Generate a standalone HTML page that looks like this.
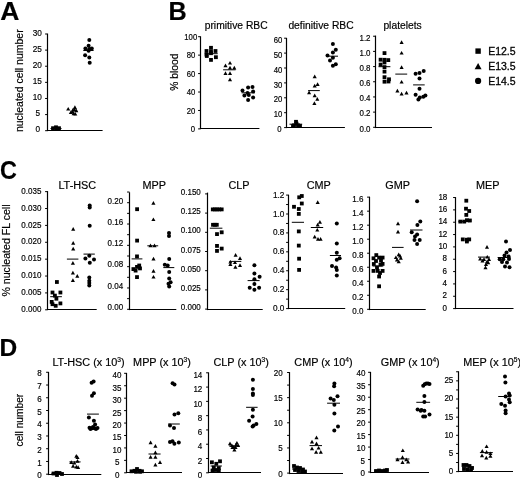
<!DOCTYPE html>
<html><head><meta charset="utf-8"><title>Figure</title>
<style>
html,body{margin:0;padding:0;background:#fff;}
body{width:520px;height:479px;overflow:hidden;}
svg{display:block;will-change:transform;}
svg text{font-family:"Liberation Sans", sans-serif;fill:#000;stroke:#000;stroke-width:0.18px;}
</style></head><body>
<svg width="520" height="479" viewBox="0 0 520 479" fill="#000">
<g stroke="none">
</g>
<g>
<line x1="47.5" y1="33.6" x2="47.5" y2="131.1" stroke="#000" stroke-width="1.2"/>
<line x1="46.9" y1="130.5" x2="102.6" y2="130.5" stroke="#000" stroke-width="1.2"/>
<line x1="45.1" y1="130.7" x2="47.5" y2="130.7" stroke="#000" stroke-width="1"/>
<text transform="translate(40.2,132.4) scale(0.93,1)" font-size="8.86" text-anchor="end">0</text>
<line x1="45.1" y1="114.58" x2="47.5" y2="114.58" stroke="#000" stroke-width="1"/>
<text transform="translate(40.2,116.28) scale(0.93,1)" font-size="8.86" text-anchor="end">5</text>
<line x1="45.1" y1="98.47" x2="47.5" y2="98.47" stroke="#000" stroke-width="1"/>
<text transform="translate(41.8,100.17) scale(0.93,1)" font-size="8.86" text-anchor="end">10</text>
<line x1="45.1" y1="82.35" x2="47.5" y2="82.35" stroke="#000" stroke-width="1"/>
<text transform="translate(41.8,84.05) scale(0.93,1)" font-size="8.86" text-anchor="end">15</text>
<line x1="45.1" y1="66.23" x2="47.5" y2="66.23" stroke="#000" stroke-width="1"/>
<text transform="translate(41.8,67.93) scale(0.93,1)" font-size="8.86" text-anchor="end">20</text>
<line x1="45.1" y1="50.12" x2="47.5" y2="50.12" stroke="#000" stroke-width="1"/>
<text transform="translate(41.8,51.82) scale(0.93,1)" font-size="8.86" text-anchor="end">25</text>
<line x1="45.1" y1="34" x2="47.5" y2="34" stroke="#000" stroke-width="1"/>
<text transform="translate(41.8,35.7) scale(0.93,1)" font-size="8.86" text-anchor="end">30</text>
<rect x="51.1" y="126.3" width="3.8" height="3.8"/>
<rect x="54.1" y="125.4" width="3.8" height="3.8"/>
<rect x="57.1" y="126.3" width="3.8" height="3.8"/>
<rect x="54.6" y="127.1" width="3.8" height="3.8"/>
<path d="M68.2 106.89L70.25 110.58L66.15 110.58Z"/>
<path d="M74.9 105.19L76.95 108.88L72.85 108.88Z"/>
<path d="M72.9 107.89L74.95 111.58L70.85 111.58Z"/>
<path d="M76.3 108.59L78.35 112.28L74.25 112.28Z"/>
<path d="M70.9 110.19L72.95 113.88L68.85 113.88Z"/>
<path d="M73.6 111.59L75.65 115.28L71.55 115.28Z"/>
<path d="M75.3 111.89L77.35 115.58L73.25 115.58Z"/>
<path d="M72.5 109.59L74.55 113.28L70.45 113.28Z"/>
<path d="M74.5 107.59L76.55 111.28L72.45 111.28Z"/>
<circle cx="89.3" cy="40" r="2"/>
<circle cx="88.6" cy="45.7" r="2"/>
<circle cx="85.4" cy="48.5" r="2"/>
<circle cx="91.8" cy="48.5" r="2"/>
<circle cx="88.6" cy="50.7" r="2"/>
<circle cx="89.3" cy="48.9" r="2"/>
<circle cx="85.1" cy="55.3" r="2"/>
<circle cx="89.3" cy="57.4" r="2"/>
<circle cx="89.7" cy="62.7" r="2"/>
<line x1="50.5" y1="128.5" x2="61.5" y2="128.5" stroke="#000" stroke-width="1"/>
<line x1="83.3" y1="50.5" x2="93.6" y2="50.5" stroke="#000" stroke-width="1"/>
<line x1="200.5" y1="36.3" x2="200.5" y2="129.1" stroke="#000" stroke-width="1.2"/>
<line x1="199.9" y1="128.5" x2="259.4" y2="128.5" stroke="#000" stroke-width="1.2"/>
<line x1="198.1" y1="128.9" x2="200.5" y2="128.9" stroke="#000" stroke-width="1"/>
<text transform="translate(195.1,132) scale(0.93,1)" font-size="8.32" text-anchor="end">0</text>
<line x1="198.1" y1="110.46" x2="200.5" y2="110.46" stroke="#000" stroke-width="1"/>
<text transform="translate(195.4,113.56) scale(0.93,1)" font-size="8.32" text-anchor="end">20</text>
<line x1="198.1" y1="92.02" x2="200.5" y2="92.02" stroke="#000" stroke-width="1"/>
<text transform="translate(195.4,95.12) scale(0.93,1)" font-size="8.32" text-anchor="end">40</text>
<line x1="198.1" y1="73.58" x2="200.5" y2="73.58" stroke="#000" stroke-width="1"/>
<text transform="translate(195.4,76.68) scale(0.93,1)" font-size="8.32" text-anchor="end">60</text>
<line x1="198.1" y1="55.14" x2="200.5" y2="55.14" stroke="#000" stroke-width="1"/>
<text transform="translate(195.4,58.24) scale(0.93,1)" font-size="8.32" text-anchor="end">80</text>
<line x1="198.1" y1="36.7" x2="200.5" y2="36.7" stroke="#000" stroke-width="1"/>
<text transform="translate(197.2,39.8) scale(0.93,1)" font-size="8.32" text-anchor="end">100</text>
<rect x="209.1" y="45.9" width="3.8" height="3.8"/>
<rect x="204.6" y="49.1" width="3.8" height="3.8"/>
<rect x="209.1" y="49.5" width="3.8" height="3.8"/>
<rect x="213.6" y="49.1" width="3.8" height="3.8"/>
<rect x="204.6" y="52.7" width="3.8" height="3.8"/>
<rect x="209.1" y="51.3" width="3.8" height="3.8"/>
<rect x="214" y="55.3" width="3.8" height="3.8"/>
<rect x="209.1" y="58" width="3.8" height="3.8"/>
<rect x="204.9" y="54.1" width="3.8" height="3.8"/>
<path d="M230 60.89L232.05 64.58L227.95 64.58Z"/>
<path d="M225.5 63.59L227.55 67.28L223.45 67.28Z"/>
<path d="M230 65.79L232.05 69.48L227.95 69.48Z"/>
<path d="M234.3 65.79L236.35 69.48L232.25 69.48Z"/>
<path d="M225.5 71.19L227.55 74.88L223.45 74.88Z"/>
<path d="M230 71.19L232.05 74.88L227.95 74.88Z"/>
<path d="M230 77.49L232.05 81.18L227.95 81.18Z"/>
<circle cx="248.1" cy="87.5" r="2"/>
<circle cx="252.5" cy="86.9" r="2"/>
<circle cx="242.5" cy="90.6" r="2"/>
<circle cx="253.1" cy="91.5" r="2"/>
<circle cx="247.5" cy="93.1" r="2"/>
<circle cx="244.4" cy="95.6" r="2"/>
<circle cx="248.8" cy="95" r="2"/>
<circle cx="253.1" cy="97.5" r="2"/>
<circle cx="248.1" cy="100" r="2"/>
<line x1="204.7" y1="53.7" x2="217.7" y2="53.7" stroke="#000" stroke-width="1"/>
<line x1="223.1" y1="69.8" x2="235.6" y2="69.8" stroke="#000" stroke-width="1"/>
<line x1="241.5" y1="92.8" x2="255" y2="92.8" stroke="#000" stroke-width="1"/>
<line x1="286.5" y1="37.9" x2="286.5" y2="128.1" stroke="#000" stroke-width="1.2"/>
<line x1="285.9" y1="127.5" x2="344.9" y2="127.5" stroke="#000" stroke-width="1.2"/>
<line x1="284.1" y1="127.6" x2="286.5" y2="127.6" stroke="#000" stroke-width="1"/>
<text transform="translate(281.6,132.2) scale(0.93,1)" font-size="8.32" text-anchor="end">0</text>
<line x1="284.1" y1="112.7" x2="286.5" y2="112.7" stroke="#000" stroke-width="1"/>
<text transform="translate(282.3,117.3) scale(0.93,1)" font-size="8.32" text-anchor="end">10</text>
<line x1="284.1" y1="97.8" x2="286.5" y2="97.8" stroke="#000" stroke-width="1"/>
<text transform="translate(282.3,102.4) scale(0.93,1)" font-size="8.32" text-anchor="end">20</text>
<line x1="284.1" y1="82.9" x2="286.5" y2="82.9" stroke="#000" stroke-width="1"/>
<text transform="translate(282.3,87.5) scale(0.93,1)" font-size="8.32" text-anchor="end">30</text>
<line x1="284.1" y1="68" x2="286.5" y2="68" stroke="#000" stroke-width="1"/>
<text transform="translate(282.3,72.6) scale(0.93,1)" font-size="8.32" text-anchor="end">40</text>
<line x1="284.1" y1="53.1" x2="286.5" y2="53.1" stroke="#000" stroke-width="1"/>
<text transform="translate(282.3,57.7) scale(0.93,1)" font-size="8.32" text-anchor="end">50</text>
<line x1="284.1" y1="38.2" x2="286.5" y2="38.2" stroke="#000" stroke-width="1"/>
<text transform="translate(282.3,42.8) scale(0.93,1)" font-size="8.32" text-anchor="end">60</text>
<rect x="294.1" y="119.9" width="3.8" height="3.8"/>
<rect x="292.1" y="123.4" width="3.8" height="3.8"/>
<rect x="296.1" y="123.4" width="3.8" height="3.8"/>
<rect x="294.6" y="121.7" width="3.8" height="3.8"/>
<rect x="291.1" y="124.1" width="3.8" height="3.8"/>
<rect x="298.1" y="124.1" width="3.8" height="3.8"/>
<path d="M314.7 74.49L316.75 78.18L312.65 78.18Z"/>
<path d="M317.6 82.19L319.65 85.88L315.55 85.88Z"/>
<path d="M314.7 83.69L316.75 87.38L312.65 87.38Z"/>
<path d="M309.1 90.49L311.15 94.18L307.05 94.18Z"/>
<path d="M314.7 93.49L316.75 97.18L312.65 97.18Z"/>
<path d="M317.3 97.09L319.35 100.78L315.25 100.78Z"/>
<path d="M314.4 101.19L316.45 104.88L312.35 104.88Z"/>
<circle cx="332.9" cy="44.1" r="2"/>
<circle cx="335.8" cy="49.7" r="2"/>
<circle cx="332.9" cy="52.6" r="2"/>
<circle cx="327.5" cy="55.5" r="2"/>
<circle cx="332.9" cy="57.7" r="2"/>
<circle cx="330" cy="60.6" r="2"/>
<circle cx="335.8" cy="64.3" r="2"/>
<circle cx="332.9" cy="65.7" r="2"/>
<line x1="289.5" y1="124.2" x2="302.2" y2="124.2" stroke="#000" stroke-width="1"/>
<line x1="308.1" y1="90.6" x2="319.8" y2="90.6" stroke="#000" stroke-width="1"/>
<line x1="326.4" y1="56.2" x2="338" y2="56.2" stroke="#000" stroke-width="1"/>
<line x1="375.5" y1="35.6" x2="375.5" y2="128.1" stroke="#000" stroke-width="1.2"/>
<line x1="374.9" y1="127.5" x2="432" y2="127.5" stroke="#000" stroke-width="1.2"/>
<line x1="373.1" y1="127.3" x2="375.5" y2="127.3" stroke="#000" stroke-width="1"/>
<text transform="translate(370.5,131.6) scale(0.93,1)" font-size="8.53" text-anchor="end">0.0</text>
<line x1="373.1" y1="112.12" x2="375.5" y2="112.12" stroke="#000" stroke-width="1"/>
<text transform="translate(370.5,116.42) scale(0.93,1)" font-size="8.53" text-anchor="end">0.2</text>
<line x1="373.1" y1="96.94" x2="375.5" y2="96.94" stroke="#000" stroke-width="1"/>
<text transform="translate(370.5,101.24) scale(0.93,1)" font-size="8.53" text-anchor="end">0.4</text>
<line x1="373.1" y1="81.76" x2="375.5" y2="81.76" stroke="#000" stroke-width="1"/>
<text transform="translate(370.5,86.06) scale(0.93,1)" font-size="8.53" text-anchor="end">0.6</text>
<line x1="373.1" y1="66.58" x2="375.5" y2="66.58" stroke="#000" stroke-width="1"/>
<text transform="translate(370.5,70.88) scale(0.93,1)" font-size="8.53" text-anchor="end">0.8</text>
<line x1="373.1" y1="51.4" x2="375.5" y2="51.4" stroke="#000" stroke-width="1"/>
<text transform="translate(370.5,55.7) scale(0.93,1)" font-size="8.53" text-anchor="end">1.0</text>
<line x1="373.1" y1="36.22" x2="375.5" y2="36.22" stroke="#000" stroke-width="1"/>
<text transform="translate(370.5,40.52) scale(0.93,1)" font-size="8.53" text-anchor="end">1.2</text>
<rect x="382.6" y="51.2" width="3.8" height="3.8"/>
<rect x="378.7" y="57.8" width="3.8" height="3.8"/>
<rect x="386.4" y="58.2" width="3.8" height="3.8"/>
<rect x="382.6" y="57.9" width="3.8" height="3.8"/>
<rect x="382.6" y="60.6" width="3.8" height="3.8"/>
<rect x="378.7" y="62.7" width="3.8" height="3.8"/>
<rect x="382.6" y="65.2" width="3.8" height="3.8"/>
<rect x="382.6" y="69.7" width="3.8" height="3.8"/>
<rect x="382.6" y="75.3" width="3.8" height="3.8"/>
<rect x="387.1" y="77.4" width="3.8" height="3.8"/>
<rect x="382.6" y="79.8" width="3.8" height="3.8"/>
<rect x="386.6" y="79.6" width="3.8" height="3.8"/>
<path d="M401.6 40.29L403.65 43.98L399.55 43.98Z"/>
<path d="M401.6 50.89L403.65 54.58L399.55 54.58Z"/>
<path d="M401.6 65.19L403.65 68.88L399.55 68.88Z"/>
<path d="M401.6 79.89L403.65 83.58L399.55 83.58Z"/>
<path d="M397.4 88.69L399.45 92.38L395.35 92.38Z"/>
<path d="M401.6 91.79L403.65 95.48L399.55 95.48Z"/>
<path d="M406.5 90.79L408.55 94.48L404.45 94.48Z"/>
<circle cx="415.6" cy="73.7" r="2"/>
<circle cx="419.5" cy="73" r="2"/>
<circle cx="423.7" cy="70.9" r="2"/>
<circle cx="419.5" cy="78.6" r="2"/>
<circle cx="419.5" cy="88.7" r="2"/>
<circle cx="415.6" cy="94.7" r="2"/>
<circle cx="419.8" cy="97.5" r="2"/>
<circle cx="423.3" cy="96.8" r="2"/>
<circle cx="425.4" cy="95.4" r="2"/>
<circle cx="418.4" cy="99.6" r="2"/>
<line x1="378.5" y1="66.7" x2="390.4" y2="66.7" stroke="#000" stroke-width="1"/>
<line x1="395.3" y1="74.1" x2="407.2" y2="74.1" stroke="#000" stroke-width="1"/>
<line x1="413.1" y1="84.9" x2="424.7" y2="84.9" stroke="#000" stroke-width="1"/>
<line x1="47.5" y1="191.1" x2="47.5" y2="310.1" stroke="#000" stroke-width="1.2"/>
<line x1="46.9" y1="309.5" x2="96.7" y2="309.5" stroke="#000" stroke-width="1.2"/>
<line x1="45.1" y1="309.8" x2="47.5" y2="309.8" stroke="#000" stroke-width="1"/>
<text transform="translate(41.4,312) scale(0.93,1)" font-size="8.64" text-anchor="end">0.000</text>
<line x1="45.1" y1="292.92" x2="47.5" y2="292.92" stroke="#000" stroke-width="1"/>
<text transform="translate(41.4,295.12) scale(0.93,1)" font-size="8.64" text-anchor="end">0.005</text>
<line x1="45.1" y1="276.04" x2="47.5" y2="276.04" stroke="#000" stroke-width="1"/>
<text transform="translate(41.4,278.24) scale(0.93,1)" font-size="8.64" text-anchor="end">0.010</text>
<line x1="45.1" y1="259.16" x2="47.5" y2="259.16" stroke="#000" stroke-width="1"/>
<text transform="translate(41.4,261.36) scale(0.93,1)" font-size="8.64" text-anchor="end">0.015</text>
<line x1="45.1" y1="242.28" x2="47.5" y2="242.28" stroke="#000" stroke-width="1"/>
<text transform="translate(41.4,244.48) scale(0.93,1)" font-size="8.64" text-anchor="end">0.020</text>
<line x1="45.1" y1="225.4" x2="47.5" y2="225.4" stroke="#000" stroke-width="1"/>
<text transform="translate(41.4,227.6) scale(0.93,1)" font-size="8.64" text-anchor="end">0.025</text>
<line x1="45.1" y1="208.52" x2="47.5" y2="208.52" stroke="#000" stroke-width="1"/>
<text transform="translate(41.4,210.72) scale(0.93,1)" font-size="8.64" text-anchor="end">0.030</text>
<line x1="45.1" y1="191.64" x2="47.5" y2="191.64" stroke="#000" stroke-width="1"/>
<text transform="translate(41.4,193.84) scale(0.93,1)" font-size="8.64" text-anchor="end">0.035</text>
<rect x="55" y="280.1" width="3.8" height="3.8"/>
<rect x="50.6" y="290.6" width="3.8" height="3.8"/>
<rect x="58.5" y="290.6" width="3.8" height="3.8"/>
<rect x="53" y="293.7" width="3.8" height="3.8"/>
<rect x="54.5" y="296.8" width="3.8" height="3.8"/>
<rect x="49.8" y="300" width="3.8" height="3.8"/>
<rect x="58.5" y="301.5" width="3.8" height="3.8"/>
<rect x="53.8" y="303.9" width="3.8" height="3.8"/>
<rect x="50.6" y="302.3" width="3.8" height="3.8"/>
<path d="M73.2 227.09L75.25 230.78L71.15 230.78Z"/>
<path d="M73.2 241.09L75.25 244.78L71.15 244.78Z"/>
<path d="M73.2 246.79L75.25 250.48L71.15 250.48Z"/>
<path d="M72.9 260.99L74.95 264.68L70.85 264.68Z"/>
<path d="M72.9 270.69L74.95 274.38L70.85 274.38Z"/>
<path d="M77.3 274.09L79.35 277.78L75.25 277.78Z"/>
<path d="M72.9 278.19L74.95 281.88L70.85 281.88Z"/>
<circle cx="89.7" cy="205.6" r="2"/>
<circle cx="89.7" cy="207.6" r="2"/>
<circle cx="89.7" cy="225.8" r="2"/>
<circle cx="89.3" cy="255.7" r="2"/>
<circle cx="85.4" cy="258.5" r="2"/>
<circle cx="94" cy="259.6" r="2"/>
<circle cx="89.8" cy="262.7" r="2"/>
<circle cx="89.3" cy="277.6" r="2"/>
<circle cx="89.3" cy="280.7" r="2"/>
<circle cx="89.3" cy="283" r="2"/>
<circle cx="89.3" cy="285.4" r="2"/>
<line x1="50.2" y1="296.7" x2="61.9" y2="296.7" stroke="#000" stroke-width="1"/>
<line x1="66.9" y1="259.1" x2="78.4" y2="259.1" stroke="#000" stroke-width="1"/>
<line x1="83.5" y1="254.1" x2="94.8" y2="254.1" stroke="#000" stroke-width="1"/>
<line x1="129.5" y1="192.3" x2="129.5" y2="310.1" stroke="#000" stroke-width="1.2"/>
<line x1="128.9" y1="309.5" x2="176.3" y2="309.5" stroke="#000" stroke-width="1.2"/>
<line x1="127.1" y1="309.3" x2="129.5" y2="309.3" stroke="#000" stroke-width="1"/>
<text transform="translate(123.2,310.1) scale(0.93,1)" font-size="8.64" text-anchor="end">0.00</text>
<line x1="127.1" y1="287.98" x2="129.5" y2="287.98" stroke="#000" stroke-width="1"/>
<text transform="translate(123.2,288.78) scale(0.93,1)" font-size="8.64" text-anchor="end">0.04</text>
<line x1="127.1" y1="266.66" x2="129.5" y2="266.66" stroke="#000" stroke-width="1"/>
<text transform="translate(123.2,267.46) scale(0.93,1)" font-size="8.64" text-anchor="end">0.08</text>
<line x1="127.1" y1="245.34" x2="129.5" y2="245.34" stroke="#000" stroke-width="1"/>
<text transform="translate(123.2,246.14) scale(0.93,1)" font-size="8.64" text-anchor="end">0.12</text>
<line x1="127.1" y1="224.02" x2="129.5" y2="224.02" stroke="#000" stroke-width="1"/>
<text transform="translate(123.2,224.82) scale(0.93,1)" font-size="8.64" text-anchor="end">0.16</text>
<line x1="127.1" y1="202.7" x2="129.5" y2="202.7" stroke="#000" stroke-width="1"/>
<text transform="translate(123.2,203.5) scale(0.93,1)" font-size="8.64" text-anchor="end">0.20</text>
<line x1="127.1" y1="298.64" x2="129.5" y2="298.64" stroke="#000" stroke-width="1"/>
<line x1="127.1" y1="277.32" x2="129.5" y2="277.32" stroke="#000" stroke-width="1"/>
<line x1="127.1" y1="256" x2="129.5" y2="256" stroke="#000" stroke-width="1"/>
<line x1="127.1" y1="234.68" x2="129.5" y2="234.68" stroke="#000" stroke-width="1"/>
<line x1="127.1" y1="213.36" x2="129.5" y2="213.36" stroke="#000" stroke-width="1"/>
<line x1="127.1" y1="192.04" x2="129.5" y2="192.04" stroke="#000" stroke-width="1"/>
<rect x="135.2" y="207.3" width="3.8" height="3.8"/>
<rect x="135.2" y="238.7" width="3.8" height="3.8"/>
<rect x="135.1" y="254.5" width="3.8" height="3.8"/>
<rect x="137.3" y="263.6" width="3.8" height="3.8"/>
<rect x="135.1" y="265" width="3.8" height="3.8"/>
<rect x="131.5" y="267.2" width="3.8" height="3.8"/>
<rect x="133.7" y="268.7" width="3.8" height="3.8"/>
<rect x="138.1" y="266.5" width="3.8" height="3.8"/>
<rect x="135.1" y="275.2" width="3.8" height="3.8"/>
<path d="M153.4 201.09L155.45 204.78L151.35 204.78Z"/>
<path d="M153.4 217.39L155.45 221.08L151.35 221.08Z"/>
<path d="M150.5 243.59L152.55 247.28L148.45 247.28Z"/>
<path d="M154.5 243.59L156.55 247.28L152.45 247.28Z"/>
<path d="M153.5 256.69L155.55 260.38L151.45 260.38Z"/>
<path d="M153.5 269.09L155.55 272.78L151.45 272.78Z"/>
<path d="M153.5 274.89L155.55 278.58L151.45 278.58Z"/>
<circle cx="169" cy="233" r="2"/>
<circle cx="169" cy="236" r="2"/>
<circle cx="169.2" cy="258.9" r="2"/>
<circle cx="164.8" cy="264.7" r="2"/>
<circle cx="167.7" cy="265.5" r="2"/>
<circle cx="169.2" cy="272" r="2"/>
<circle cx="169.2" cy="278.6" r="2"/>
<circle cx="170.6" cy="282.3" r="2"/>
<circle cx="168.5" cy="283.7" r="2"/>
<circle cx="169.2" cy="286.4" r="2"/>
<line x1="131.6" y1="258.9" x2="142.4" y2="258.9" stroke="#000" stroke-width="1"/>
<line x1="147.3" y1="245.8" x2="158.2" y2="245.8" stroke="#000" stroke-width="1"/>
<line x1="163.3" y1="267.6" x2="174.3" y2="267.6" stroke="#000" stroke-width="1"/>
<line x1="207.5" y1="192.6" x2="207.5" y2="310.1" stroke="#000" stroke-width="1.2"/>
<line x1="206.9" y1="309.5" x2="262.7" y2="309.5" stroke="#000" stroke-width="1.2"/>
<line x1="205.1" y1="309.1" x2="207.5" y2="309.1" stroke="#000" stroke-width="1"/>
<text transform="translate(200.8,310.2) scale(0.93,1)" font-size="8.64" text-anchor="end">0.000</text>
<line x1="205.1" y1="289.9" x2="207.5" y2="289.9" stroke="#000" stroke-width="1"/>
<text transform="translate(200.8,291) scale(0.93,1)" font-size="8.64" text-anchor="end">0.025</text>
<line x1="205.1" y1="270.7" x2="207.5" y2="270.7" stroke="#000" stroke-width="1"/>
<text transform="translate(200.8,271.8) scale(0.93,1)" font-size="8.64" text-anchor="end">0.050</text>
<line x1="205.1" y1="251.5" x2="207.5" y2="251.5" stroke="#000" stroke-width="1"/>
<text transform="translate(200.8,252.6) scale(0.93,1)" font-size="8.64" text-anchor="end">0.075</text>
<line x1="205.1" y1="232.3" x2="207.5" y2="232.3" stroke="#000" stroke-width="1"/>
<text transform="translate(200.8,233.4) scale(0.93,1)" font-size="8.64" text-anchor="end">0.100</text>
<line x1="205.1" y1="213.1" x2="207.5" y2="213.1" stroke="#000" stroke-width="1"/>
<text transform="translate(200.8,214.2) scale(0.93,1)" font-size="8.64" text-anchor="end">0.125</text>
<line x1="205.1" y1="193.9" x2="207.5" y2="193.9" stroke="#000" stroke-width="1"/>
<text transform="translate(200.8,195) scale(0.93,1)" font-size="8.64" text-anchor="end">0.150</text>
<rect x="210.9" y="207.5" width="3.8" height="3.8"/>
<rect x="213" y="207.5" width="3.8" height="3.8"/>
<rect x="215.1" y="207.5" width="3.8" height="3.8"/>
<rect x="217.3" y="207.5" width="3.8" height="3.8"/>
<rect x="219.8" y="207.5" width="3.8" height="3.8"/>
<rect x="211.1" y="222.9" width="3.8" height="3.8"/>
<rect x="213.1" y="222.9" width="3.8" height="3.8"/>
<rect x="214.9" y="222.9" width="3.8" height="3.8"/>
<rect x="215.1" y="232.2" width="3.8" height="3.8"/>
<rect x="219.8" y="230.4" width="3.8" height="3.8"/>
<rect x="215.1" y="244" width="3.8" height="3.8"/>
<rect x="219.8" y="246.7" width="3.8" height="3.8"/>
<rect x="215.1" y="249" width="3.8" height="3.8"/>
<path d="M235.6 253.09L237.65 256.78L233.55 256.78Z"/>
<path d="M240 256.19L242.05 259.88L237.95 259.88Z"/>
<path d="M230.4 259.89L232.45 263.58L228.35 263.58Z"/>
<path d="M235 260.39L237.05 264.08L232.95 264.08Z"/>
<path d="M230.4 262.29L232.45 265.98L228.35 265.98Z"/>
<path d="M240 263.29L242.05 266.98L237.95 266.98Z"/>
<path d="M235.4 265.09L237.45 268.78L233.35 268.78Z"/>
<circle cx="254.4" cy="265.2" r="2"/>
<circle cx="254.4" cy="273.6" r="2"/>
<circle cx="259.6" cy="276.7" r="2"/>
<circle cx="254.4" cy="279.3" r="2"/>
<circle cx="254.4" cy="284" r="2"/>
<circle cx="249.7" cy="287.7" r="2"/>
<circle cx="259.1" cy="287.7" r="2"/>
<circle cx="254.4" cy="289.8" r="2"/>
<line x1="209.8" y1="228.2" x2="222.4" y2="228.2" stroke="#000" stroke-width="1"/>
<line x1="229.3" y1="261.4" x2="241.3" y2="261.4" stroke="#000" stroke-width="1"/>
<line x1="247.6" y1="280.6" x2="259.6" y2="280.6" stroke="#000" stroke-width="1"/>
<line x1="288.5" y1="194.7" x2="288.5" y2="309.1" stroke="#000" stroke-width="1.2"/>
<line x1="287.9" y1="308.5" x2="345.2" y2="308.5" stroke="#000" stroke-width="1.2"/>
<line x1="286.1" y1="308.6" x2="288.5" y2="308.6" stroke="#000" stroke-width="1"/>
<text transform="translate(284.4,311.1) scale(0.93,1)" font-size="8.86" text-anchor="end">0.0</text>
<line x1="286.1" y1="289.68" x2="288.5" y2="289.68" stroke="#000" stroke-width="1"/>
<text transform="translate(284.4,292.18) scale(0.93,1)" font-size="8.86" text-anchor="end">0.2</text>
<line x1="286.1" y1="270.76" x2="288.5" y2="270.76" stroke="#000" stroke-width="1"/>
<text transform="translate(284.4,273.26) scale(0.93,1)" font-size="8.86" text-anchor="end">0.4</text>
<line x1="286.1" y1="251.84" x2="288.5" y2="251.84" stroke="#000" stroke-width="1"/>
<text transform="translate(284.4,254.34) scale(0.93,1)" font-size="8.86" text-anchor="end">0.6</text>
<line x1="286.1" y1="232.92" x2="288.5" y2="232.92" stroke="#000" stroke-width="1"/>
<text transform="translate(284.4,235.42) scale(0.93,1)" font-size="8.86" text-anchor="end">0.8</text>
<line x1="286.1" y1="214" x2="288.5" y2="214" stroke="#000" stroke-width="1"/>
<text transform="translate(284.4,216.5) scale(0.93,1)" font-size="8.86" text-anchor="end">1.0</text>
<line x1="286.1" y1="195.08" x2="288.5" y2="195.08" stroke="#000" stroke-width="1"/>
<text transform="translate(284.4,197.58) scale(0.93,1)" font-size="8.86" text-anchor="end">1.2</text>
<line x1="286.1" y1="299.14" x2="288.5" y2="299.14" stroke="#000" stroke-width="1"/>
<line x1="286.1" y1="280.22" x2="288.5" y2="280.22" stroke="#000" stroke-width="1"/>
<line x1="286.1" y1="261.3" x2="288.5" y2="261.3" stroke="#000" stroke-width="1"/>
<line x1="286.1" y1="242.38" x2="288.5" y2="242.38" stroke="#000" stroke-width="1"/>
<line x1="286.1" y1="223.46" x2="288.5" y2="223.46" stroke="#000" stroke-width="1"/>
<line x1="286.1" y1="204.54" x2="288.5" y2="204.54" stroke="#000" stroke-width="1"/>
<rect x="297.3" y="195.4" width="3.8" height="3.8"/>
<rect x="299.9" y="194.1" width="3.8" height="3.8"/>
<rect x="299.9" y="201.6" width="3.8" height="3.8"/>
<rect x="292.1" y="204.9" width="3.8" height="3.8"/>
<rect x="296.9" y="207.1" width="3.8" height="3.8"/>
<rect x="296.9" y="212" width="3.8" height="3.8"/>
<rect x="296.9" y="229.5" width="3.8" height="3.8"/>
<rect x="296.9" y="243.7" width="3.8" height="3.8"/>
<rect x="297.2" y="256.8" width="3.8" height="3.8"/>
<rect x="297.2" y="268" width="3.8" height="3.8"/>
<path d="M317.7 200.29L319.75 203.98L315.65 203.98Z"/>
<path d="M319.9 220.09L321.95 223.78L317.85 223.78Z"/>
<path d="M317.7 222.69L319.75 226.38L315.65 226.38Z"/>
<path d="M317.3 227.89L319.35 231.58L315.25 231.58Z"/>
<path d="M314.7 234.79L316.75 238.48L312.65 238.48Z"/>
<path d="M318 236.99L320.05 240.68L315.95 240.68Z"/>
<path d="M320.6 236.99L322.65 240.68L318.55 240.68Z"/>
<circle cx="336.8" cy="223.6" r="2"/>
<circle cx="336.8" cy="243.4" r="2"/>
<circle cx="336.8" cy="252.7" r="2"/>
<circle cx="339.6" cy="258.3" r="2"/>
<circle cx="336.8" cy="259.7" r="2"/>
<circle cx="332" cy="266" r="2"/>
<circle cx="336.1" cy="267.4" r="2"/>
<circle cx="336.8" cy="269.9" r="2"/>
<circle cx="336.8" cy="275.5" r="2"/>
<line x1="291.8" y1="222.3" x2="304" y2="222.3" stroke="#000" stroke-width="1"/>
<line x1="310.8" y1="227.5" x2="323.2" y2="227.5" stroke="#000" stroke-width="1"/>
<line x1="329.9" y1="255.5" x2="341" y2="255.5" stroke="#000" stroke-width="1"/>
<line x1="369.5" y1="196.7" x2="369.5" y2="310.1" stroke="#000" stroke-width="1.2"/>
<line x1="368.9" y1="309.5" x2="425.7" y2="309.5" stroke="#000" stroke-width="1.2"/>
<line x1="367.1" y1="309.3" x2="369.5" y2="309.3" stroke="#000" stroke-width="1"/>
<text transform="translate(363.4,313.7) scale(0.93,1)" font-size="8.64" text-anchor="end">0.0</text>
<line x1="367.1" y1="295.28" x2="369.5" y2="295.28" stroke="#000" stroke-width="1"/>
<text transform="translate(363.4,299.68) scale(0.93,1)" font-size="8.64" text-anchor="end">0.2</text>
<line x1="367.1" y1="281.26" x2="369.5" y2="281.26" stroke="#000" stroke-width="1"/>
<text transform="translate(363.4,285.66) scale(0.93,1)" font-size="8.64" text-anchor="end">0.4</text>
<line x1="367.1" y1="267.24" x2="369.5" y2="267.24" stroke="#000" stroke-width="1"/>
<text transform="translate(363.4,271.64) scale(0.93,1)" font-size="8.64" text-anchor="end">0.6</text>
<line x1="367.1" y1="253.22" x2="369.5" y2="253.22" stroke="#000" stroke-width="1"/>
<text transform="translate(363.4,257.62) scale(0.93,1)" font-size="8.64" text-anchor="end">0.8</text>
<line x1="367.1" y1="239.2" x2="369.5" y2="239.2" stroke="#000" stroke-width="1"/>
<text transform="translate(363.4,243.6) scale(0.93,1)" font-size="8.64" text-anchor="end">1.0</text>
<line x1="367.1" y1="225.18" x2="369.5" y2="225.18" stroke="#000" stroke-width="1"/>
<text transform="translate(363.4,229.58) scale(0.93,1)" font-size="8.64" text-anchor="end">1.2</text>
<line x1="367.1" y1="211.16" x2="369.5" y2="211.16" stroke="#000" stroke-width="1"/>
<text transform="translate(363.4,215.56) scale(0.93,1)" font-size="8.64" text-anchor="end">1.4</text>
<line x1="367.1" y1="197.14" x2="369.5" y2="197.14" stroke="#000" stroke-width="1"/>
<text transform="translate(363.4,201.54) scale(0.93,1)" font-size="8.64" text-anchor="end">1.6</text>
<rect x="374.4" y="253.2" width="3.8" height="3.8"/>
<rect x="371.6" y="256.4" width="3.8" height="3.8"/>
<rect x="377.2" y="255.7" width="3.8" height="3.8"/>
<rect x="380.7" y="255.7" width="3.8" height="3.8"/>
<rect x="378.6" y="262.7" width="3.8" height="3.8"/>
<rect x="380.7" y="262" width="3.8" height="3.8"/>
<rect x="371.6" y="269" width="3.8" height="3.8"/>
<rect x="375.8" y="269" width="3.8" height="3.8"/>
<rect x="380.7" y="269" width="3.8" height="3.8"/>
<rect x="377.2" y="274.6" width="3.8" height="3.8"/>
<rect x="377.2" y="284.4" width="3.8" height="3.8"/>
<rect x="374.1" y="259.1" width="3.8" height="3.8"/>
<rect x="371.9" y="262.1" width="3.8" height="3.8"/>
<rect x="375.1" y="265.6" width="3.8" height="3.8"/>
<rect x="378.1" y="271.1" width="3.8" height="3.8"/>
<rect x="379.1" y="258.6" width="3.8" height="3.8"/>
<path d="M398 221.59L400.05 225.28L395.95 225.28Z"/>
<path d="M398 229.69L400.05 233.38L395.95 233.38Z"/>
<path d="M398.7 252.59L400.75 256.28L396.65 256.28Z"/>
<path d="M395.9 255.39L397.95 259.08L393.85 259.08Z"/>
<path d="M400.8 256.09L402.85 259.78L398.75 259.78Z"/>
<path d="M398.7 259.59L400.75 263.28L396.65 263.28Z"/>
<path d="M397 257.79L399.05 261.48L394.95 261.48Z"/>
<path d="M400 253.79L402.05 257.48L397.95 257.48Z"/>
<circle cx="417.1" cy="201.3" r="2"/>
<circle cx="420.3" cy="221.6" r="2"/>
<circle cx="417.4" cy="225" r="2"/>
<circle cx="411.7" cy="232.3" r="2"/>
<circle cx="417.1" cy="234.5" r="2"/>
<circle cx="414.5" cy="240" r="2"/>
<circle cx="419.7" cy="240" r="2"/>
<circle cx="417.1" cy="244.1" r="2"/>
<circle cx="415" cy="236.5" r="2"/>
<line x1="372.5" y1="266" x2="383.3" y2="266" stroke="#000" stroke-width="1"/>
<line x1="392" y1="247.4" x2="403.6" y2="247.4" stroke="#000" stroke-width="1"/>
<line x1="410" y1="230" x2="422.5" y2="230" stroke="#000" stroke-width="1"/>
<line x1="455.5" y1="197.1" x2="455.5" y2="309.1" stroke="#000" stroke-width="1.2"/>
<line x1="454.9" y1="308.5" x2="513.5" y2="308.5" stroke="#000" stroke-width="1.2"/>
<line x1="453.1" y1="308.6" x2="455.5" y2="308.6" stroke="#000" stroke-width="1"/>
<text transform="translate(447,310.8) scale(0.93,1)" font-size="8.64" text-anchor="end">0</text>
<line x1="453.1" y1="296.26" x2="455.5" y2="296.26" stroke="#000" stroke-width="1"/>
<text transform="translate(447,298.46) scale(0.93,1)" font-size="8.64" text-anchor="end">2</text>
<line x1="453.1" y1="283.92" x2="455.5" y2="283.92" stroke="#000" stroke-width="1"/>
<text transform="translate(447,286.12) scale(0.93,1)" font-size="8.64" text-anchor="end">4</text>
<line x1="453.1" y1="271.58" x2="455.5" y2="271.58" stroke="#000" stroke-width="1"/>
<text transform="translate(447,273.78) scale(0.93,1)" font-size="8.64" text-anchor="end">6</text>
<line x1="453.1" y1="259.24" x2="455.5" y2="259.24" stroke="#000" stroke-width="1"/>
<text transform="translate(447,261.44) scale(0.93,1)" font-size="8.64" text-anchor="end">8</text>
<line x1="453.1" y1="246.9" x2="455.5" y2="246.9" stroke="#000" stroke-width="1"/>
<text transform="translate(447.3,249.1) scale(0.93,1)" font-size="8.64" text-anchor="end">10</text>
<line x1="453.1" y1="234.56" x2="455.5" y2="234.56" stroke="#000" stroke-width="1"/>
<text transform="translate(447.3,236.76) scale(0.93,1)" font-size="8.64" text-anchor="end">12</text>
<line x1="453.1" y1="222.22" x2="455.5" y2="222.22" stroke="#000" stroke-width="1"/>
<text transform="translate(447.3,224.42) scale(0.93,1)" font-size="8.64" text-anchor="end">14</text>
<line x1="453.1" y1="209.88" x2="455.5" y2="209.88" stroke="#000" stroke-width="1"/>
<text transform="translate(447.3,212.08) scale(0.93,1)" font-size="8.64" text-anchor="end">16</text>
<line x1="453.1" y1="197.54" x2="455.5" y2="197.54" stroke="#000" stroke-width="1"/>
<text transform="translate(447.3,199.74) scale(0.93,1)" font-size="8.64" text-anchor="end">18</text>
<rect x="464.4" y="198.8" width="3.8" height="3.8"/>
<rect x="464.1" y="206.8" width="3.8" height="3.8"/>
<rect x="467.3" y="209.1" width="3.8" height="3.8"/>
<rect x="464.4" y="213" width="3.8" height="3.8"/>
<rect x="458.4" y="219.7" width="3.8" height="3.8"/>
<rect x="462.3" y="219.7" width="3.8" height="3.8"/>
<rect x="465" y="218.3" width="3.8" height="3.8"/>
<rect x="468" y="218.6" width="3.8" height="3.8"/>
<rect x="460.9" y="237.5" width="3.8" height="3.8"/>
<rect x="465" y="237.8" width="3.8" height="3.8"/>
<rect x="467.3" y="237.5" width="3.8" height="3.8"/>
<rect x="465" y="239.6" width="3.8" height="3.8"/>
<path d="M487 244.99L489.05 248.68L484.95 248.68Z"/>
<path d="M480.2 256.69L482.25 260.38L478.15 260.38Z"/>
<path d="M487.3 254.89L489.35 258.58L485.25 258.58Z"/>
<path d="M487 259.69L489.05 263.38L484.95 263.38Z"/>
<path d="M488.2 260.59L490.25 264.28L486.15 264.28Z"/>
<path d="M485.5 265.59L487.55 269.28L483.45 269.28Z"/>
<path d="M484 257.29L486.05 260.98L481.95 260.98Z"/>
<path d="M489 257.29L491.05 260.98L486.95 260.98Z"/>
<path d="M486 262.29L488.05 265.98L483.95 265.98Z"/>
<path d="M482.5 258.79L484.55 262.48L480.45 262.48Z"/>
<circle cx="506" cy="241.5" r="2"/>
<circle cx="510" cy="250" r="2"/>
<circle cx="506.5" cy="252.5" r="2"/>
<circle cx="508.6" cy="256.6" r="2"/>
<circle cx="499.7" cy="259.3" r="2"/>
<circle cx="503.3" cy="259.3" r="2"/>
<circle cx="509" cy="259" r="2"/>
<circle cx="505" cy="266.4" r="2"/>
<circle cx="509.5" cy="267.3" r="2"/>
<circle cx="502" cy="262" r="2"/>
<circle cx="507" cy="262.5" r="2"/>
<circle cx="504.5" cy="255.5" r="2"/>
<line x1="458.5" y1="221.6" x2="471" y2="221.6" stroke="#000" stroke-width="1"/>
<line x1="478" y1="257.1" x2="490" y2="257.1" stroke="#000" stroke-width="1"/>
<line x1="497.6" y1="257.5" x2="510.4" y2="257.5" stroke="#000" stroke-width="1"/>
<line x1="48.5" y1="371.9" x2="48.5" y2="475.1" stroke="#000" stroke-width="1.2"/>
<line x1="47.9" y1="474.5" x2="101.3" y2="474.5" stroke="#000" stroke-width="1.2"/>
<line x1="46.1" y1="474.2" x2="48.5" y2="474.2" stroke="#000" stroke-width="1"/>
<text transform="translate(41.6,478.3) scale(0.93,1)" font-size="8.64" text-anchor="end">0</text>
<line x1="46.1" y1="461.46" x2="48.5" y2="461.46" stroke="#000" stroke-width="1"/>
<text transform="translate(41.6,465.56) scale(0.93,1)" font-size="8.64" text-anchor="end">1</text>
<line x1="46.1" y1="448.72" x2="48.5" y2="448.72" stroke="#000" stroke-width="1"/>
<text transform="translate(41.6,452.82) scale(0.93,1)" font-size="8.64" text-anchor="end">2</text>
<line x1="46.1" y1="435.98" x2="48.5" y2="435.98" stroke="#000" stroke-width="1"/>
<text transform="translate(41.6,440.08) scale(0.93,1)" font-size="8.64" text-anchor="end">3</text>
<line x1="46.1" y1="423.24" x2="48.5" y2="423.24" stroke="#000" stroke-width="1"/>
<text transform="translate(41.6,427.34) scale(0.93,1)" font-size="8.64" text-anchor="end">4</text>
<line x1="46.1" y1="410.5" x2="48.5" y2="410.5" stroke="#000" stroke-width="1"/>
<text transform="translate(41.6,414.6) scale(0.93,1)" font-size="8.64" text-anchor="end">5</text>
<line x1="46.1" y1="397.76" x2="48.5" y2="397.76" stroke="#000" stroke-width="1"/>
<text transform="translate(41.6,401.86) scale(0.93,1)" font-size="8.64" text-anchor="end">6</text>
<line x1="46.1" y1="385.02" x2="48.5" y2="385.02" stroke="#000" stroke-width="1"/>
<text transform="translate(41.6,389.12) scale(0.93,1)" font-size="8.64" text-anchor="end">7</text>
<line x1="46.1" y1="372.28" x2="48.5" y2="372.28" stroke="#000" stroke-width="1"/>
<text transform="translate(41.6,376.38) scale(0.93,1)" font-size="8.64" text-anchor="end">8</text>
<rect x="51.6" y="471.6" width="3.8" height="3.8"/>
<rect x="54.6" y="470.9" width="3.8" height="3.8"/>
<rect x="57.6" y="471.1" width="3.8" height="3.8"/>
<rect x="60.1" y="472.1" width="3.8" height="3.8"/>
<rect x="55.1" y="473.1" width="3.8" height="3.8"/>
<path d="M76.3 454.09L78.35 457.78L74.25 457.78Z"/>
<path d="M77.5 455.29L79.55 458.98L75.45 458.98Z"/>
<path d="M71.3 460.29L73.35 463.98L69.25 463.98Z"/>
<path d="M74.4 460.89L76.45 464.58L72.35 464.58Z"/>
<path d="M77.5 459.09L79.55 462.78L75.45 462.78Z"/>
<path d="M73.1 464.09L75.15 467.78L71.05 467.78Z"/>
<path d="M76.3 464.69L78.35 468.38L74.25 468.38Z"/>
<path d="M78.1 465.29L80.15 468.98L76.05 468.98Z"/>
<circle cx="93.6" cy="381.5" r="2"/>
<circle cx="91.6" cy="382.8" r="2"/>
<circle cx="93.9" cy="393.2" r="2"/>
<circle cx="92" cy="395.7" r="2"/>
<circle cx="88.9" cy="417.6" r="2"/>
<circle cx="93.9" cy="420.8" r="2"/>
<circle cx="95.1" cy="424.5" r="2"/>
<circle cx="89.5" cy="427.8" r="2"/>
<circle cx="92" cy="428.2" r="2"/>
<circle cx="94.5" cy="428.3" r="2"/>
<circle cx="97.5" cy="428" r="2"/>
<circle cx="90.5" cy="429" r="2"/>
<circle cx="96" cy="429" r="2"/>
<circle cx="93" cy="427" r="2"/>
<line x1="51" y1="474" x2="63" y2="474" stroke="#000" stroke-width="1"/>
<line x1="69.4" y1="461.9" x2="80.6" y2="461.9" stroke="#000" stroke-width="1"/>
<line x1="87" y1="414.1" x2="98.9" y2="414.1" stroke="#000" stroke-width="1"/>
<line x1="126.5" y1="372.9" x2="126.5" y2="473.1" stroke="#000" stroke-width="1.2"/>
<line x1="125.9" y1="472.5" x2="182" y2="472.5" stroke="#000" stroke-width="1.2"/>
<line x1="124.1" y1="472.8" x2="126.5" y2="472.8" stroke="#000" stroke-width="1"/>
<text transform="translate(119.4,477.8) scale(0.93,1)" font-size="8.64" text-anchor="end">0</text>
<line x1="124.1" y1="460.36" x2="126.5" y2="460.36" stroke="#000" stroke-width="1"/>
<text transform="translate(119.4,465.36) scale(0.93,1)" font-size="8.64" text-anchor="end">5</text>
<line x1="124.1" y1="447.93" x2="126.5" y2="447.93" stroke="#000" stroke-width="1"/>
<text transform="translate(121.5,452.93) scale(0.93,1)" font-size="8.64" text-anchor="end">10</text>
<line x1="124.1" y1="435.49" x2="126.5" y2="435.49" stroke="#000" stroke-width="1"/>
<text transform="translate(121.5,440.49) scale(0.93,1)" font-size="8.64" text-anchor="end">15</text>
<line x1="124.1" y1="423.05" x2="126.5" y2="423.05" stroke="#000" stroke-width="1"/>
<text transform="translate(121.5,428.05) scale(0.93,1)" font-size="8.64" text-anchor="end">20</text>
<line x1="124.1" y1="410.61" x2="126.5" y2="410.61" stroke="#000" stroke-width="1"/>
<text transform="translate(121.5,415.61) scale(0.93,1)" font-size="8.64" text-anchor="end">25</text>
<line x1="124.1" y1="398.18" x2="126.5" y2="398.18" stroke="#000" stroke-width="1"/>
<text transform="translate(121.5,403.18) scale(0.93,1)" font-size="8.64" text-anchor="end">30</text>
<line x1="124.1" y1="385.74" x2="126.5" y2="385.74" stroke="#000" stroke-width="1"/>
<text transform="translate(121.5,390.74) scale(0.93,1)" font-size="8.64" text-anchor="end">35</text>
<line x1="124.1" y1="373.3" x2="126.5" y2="373.3" stroke="#000" stroke-width="1"/>
<text transform="translate(121.5,378.3) scale(0.93,1)" font-size="8.64" text-anchor="end">40</text>
<rect x="129.6" y="469.4" width="3.8" height="3.8"/>
<rect x="132.6" y="468.9" width="3.8" height="3.8"/>
<rect x="135.1" y="467.1" width="3.8" height="3.8"/>
<rect x="137.6" y="468.9" width="3.8" height="3.8"/>
<rect x="140.1" y="469.4" width="3.8" height="3.8"/>
<rect x="134.1" y="469.9" width="3.8" height="3.8"/>
<rect x="138.1" y="469.9" width="3.8" height="3.8"/>
<path d="M150.6 440.59L152.65 444.28L148.55 444.28Z"/>
<path d="M155.4 444.09L157.45 447.78L153.35 447.78Z"/>
<path d="M155.4 450.59L157.45 454.28L153.35 454.28Z"/>
<path d="M150.6 455.09L152.65 458.78L148.55 458.78Z"/>
<path d="M155.4 455.09L157.45 458.78L153.35 458.78Z"/>
<path d="M160 460.29L162.05 463.98L157.95 463.98Z"/>
<path d="M155.4 462.79L157.45 466.48L153.35 466.48Z"/>
<circle cx="172.6" cy="383.2" r="2"/>
<circle cx="174.5" cy="384.4" r="2"/>
<circle cx="174.5" cy="414.5" r="2"/>
<circle cx="178.3" cy="413.2" r="2"/>
<circle cx="170" cy="425.6" r="2"/>
<circle cx="174" cy="428.1" r="2"/>
<circle cx="170" cy="441.9" r="2"/>
<circle cx="172.5" cy="441.3" r="2"/>
<circle cx="174.4" cy="443.8" r="2"/>
<circle cx="178.8" cy="442.5" r="2"/>
<line x1="131" y1="470.5" x2="143" y2="470.5" stroke="#000" stroke-width="1"/>
<line x1="148.5" y1="454" x2="160.6" y2="454" stroke="#000" stroke-width="1"/>
<line x1="168.1" y1="424" x2="179.8" y2="424" stroke="#000" stroke-width="1"/>
<line x1="208.5" y1="372.4" x2="208.5" y2="473.1" stroke="#000" stroke-width="1.2"/>
<line x1="207.9" y1="472.5" x2="261" y2="472.5" stroke="#000" stroke-width="1.2"/>
<line x1="206.1" y1="472.8" x2="208.5" y2="472.8" stroke="#000" stroke-width="1"/>
<text transform="translate(202.3,478) scale(0.93,1)" font-size="8.64" text-anchor="end">0</text>
<line x1="206.1" y1="458.51" x2="208.5" y2="458.51" stroke="#000" stroke-width="1"/>
<text transform="translate(202.3,463.71) scale(0.93,1)" font-size="8.64" text-anchor="end">2</text>
<line x1="206.1" y1="444.23" x2="208.5" y2="444.23" stroke="#000" stroke-width="1"/>
<text transform="translate(202.3,449.43) scale(0.93,1)" font-size="8.64" text-anchor="end">4</text>
<line x1="206.1" y1="429.94" x2="208.5" y2="429.94" stroke="#000" stroke-width="1"/>
<text transform="translate(202.3,435.14) scale(0.93,1)" font-size="8.64" text-anchor="end">6</text>
<line x1="206.1" y1="415.66" x2="208.5" y2="415.66" stroke="#000" stroke-width="1"/>
<text transform="translate(202.3,420.86) scale(0.93,1)" font-size="8.64" text-anchor="end">8</text>
<line x1="206.1" y1="401.37" x2="208.5" y2="401.37" stroke="#000" stroke-width="1"/>
<text transform="translate(202.3,406.57) scale(0.93,1)" font-size="8.64" text-anchor="end">10</text>
<line x1="206.1" y1="387.08" x2="208.5" y2="387.08" stroke="#000" stroke-width="1"/>
<text transform="translate(202.3,392.28) scale(0.93,1)" font-size="8.64" text-anchor="end">12</text>
<line x1="206.1" y1="372.8" x2="208.5" y2="372.8" stroke="#000" stroke-width="1"/>
<text transform="translate(202.3,378) scale(0.93,1)" font-size="8.64" text-anchor="end">14</text>
<rect x="210" y="460.4" width="3.8" height="3.8"/>
<rect x="218.1" y="459.4" width="3.8" height="3.8"/>
<rect x="214.4" y="461.9" width="3.8" height="3.8"/>
<rect x="211.9" y="465.6" width="3.8" height="3.8"/>
<rect x="216.9" y="466.2" width="3.8" height="3.8"/>
<rect x="213.7" y="468.1" width="3.8" height="3.8"/>
<rect x="216.9" y="468.7" width="3.8" height="3.8"/>
<rect x="210.6" y="468.6" width="3.8" height="3.8"/>
<path d="M230 441.59L232.05 445.28L227.95 445.28Z"/>
<path d="M231.9 443.39L233.95 447.08L229.85 447.08Z"/>
<path d="M236.9 440.89L238.95 444.58L234.85 444.58Z"/>
<path d="M233.8 444.69L235.85 448.38L231.75 448.38Z"/>
<path d="M238.1 443.39L240.15 447.08L236.05 447.08Z"/>
<path d="M234.4 447.79L236.45 451.48L232.35 451.48Z"/>
<path d="M232.5 445.29L234.55 448.98L230.45 448.98Z"/>
<path d="M235.5 445.29L237.55 448.98L233.45 448.98Z"/>
<path d="M236 442.79L238.05 446.48L233.95 446.48Z"/>
<circle cx="252.9" cy="379.8" r="2"/>
<circle cx="252.9" cy="389" r="2"/>
<circle cx="252.9" cy="393.6" r="2"/>
<circle cx="252.9" cy="395.1" r="2"/>
<circle cx="252.9" cy="409.8" r="2"/>
<circle cx="252.6" cy="416.4" r="2"/>
<circle cx="249.1" cy="420.8" r="2"/>
<circle cx="256.4" cy="423.9" r="2"/>
<circle cx="253.6" cy="425.4" r="2"/>
<circle cx="252.6" cy="426.4" r="2"/>
<line x1="210.6" y1="466" x2="221.9" y2="466" stroke="#000" stroke-width="1"/>
<line x1="229" y1="446" x2="239.5" y2="446" stroke="#000" stroke-width="1"/>
<line x1="246.1" y1="407.3" x2="257.6" y2="407.3" stroke="#000" stroke-width="1"/>
<line x1="289.5" y1="372.1" x2="289.5" y2="474.1" stroke="#000" stroke-width="1.2"/>
<line x1="288.9" y1="473.5" x2="343" y2="473.5" stroke="#000" stroke-width="1.2"/>
<line x1="287.1" y1="473.1" x2="289.5" y2="473.1" stroke="#000" stroke-width="1"/>
<text transform="translate(282.6,476.6) scale(0.93,1)" font-size="8.64" text-anchor="end">0</text>
<line x1="287.1" y1="447.95" x2="289.5" y2="447.95" stroke="#000" stroke-width="1"/>
<text transform="translate(282.6,451.45) scale(0.93,1)" font-size="8.64" text-anchor="end">5</text>
<line x1="287.1" y1="422.8" x2="289.5" y2="422.8" stroke="#000" stroke-width="1"/>
<text transform="translate(282.6,426.3) scale(0.93,1)" font-size="8.64" text-anchor="end">10</text>
<line x1="287.1" y1="397.65" x2="289.5" y2="397.65" stroke="#000" stroke-width="1"/>
<text transform="translate(282.6,401.15) scale(0.93,1)" font-size="8.64" text-anchor="end">15</text>
<line x1="287.1" y1="372.5" x2="289.5" y2="372.5" stroke="#000" stroke-width="1"/>
<text transform="translate(282.6,376) scale(0.93,1)" font-size="8.64" text-anchor="end">20</text>
<line x1="287.1" y1="460.53" x2="289.5" y2="460.53" stroke="#000" stroke-width="1"/>
<line x1="287.1" y1="435.38" x2="289.5" y2="435.38" stroke="#000" stroke-width="1"/>
<line x1="287.1" y1="410.23" x2="289.5" y2="410.23" stroke="#000" stroke-width="1"/>
<line x1="287.1" y1="385.08" x2="289.5" y2="385.08" stroke="#000" stroke-width="1"/>
<rect x="292.1" y="464.1" width="3.8" height="3.8"/>
<rect x="295.1" y="465.6" width="3.8" height="3.8"/>
<rect x="298.1" y="466.1" width="3.8" height="3.8"/>
<rect x="301.1" y="467.6" width="3.8" height="3.8"/>
<rect x="293.1" y="468.1" width="3.8" height="3.8"/>
<rect x="296.6" y="469.1" width="3.8" height="3.8"/>
<rect x="300.1" y="469.6" width="3.8" height="3.8"/>
<rect x="303.1" y="469.6" width="3.8" height="3.8"/>
<path d="M316.5 435.59L318.55 439.28L314.45 439.28Z"/>
<path d="M312 439.69L314.05 443.38L309.95 443.38Z"/>
<path d="M316.5 441.59L318.55 445.28L314.45 445.28Z"/>
<path d="M312 446.59L314.05 450.28L309.95 450.28Z"/>
<path d="M318.6 445.89L320.65 449.58L316.55 449.58Z"/>
<path d="M316.1 450.09L318.15 453.78L314.05 453.78Z"/>
<path d="M320.8 450.09L322.85 453.78L318.75 453.78Z"/>
<circle cx="334.4" cy="383.5" r="2"/>
<circle cx="334.1" cy="386.3" r="2"/>
<circle cx="330.6" cy="398.6" r="2"/>
<circle cx="333.8" cy="400.1" r="2"/>
<circle cx="337.5" cy="396.3" r="2"/>
<circle cx="334.4" cy="404.8" r="2"/>
<circle cx="334.4" cy="413.6" r="2"/>
<circle cx="338" cy="426.5" r="2"/>
<circle cx="334.3" cy="430.6" r="2"/>
<line x1="292" y1="469" x2="304" y2="469" stroke="#000" stroke-width="1"/>
<line x1="309.5" y1="445.6" x2="322" y2="445.6" stroke="#000" stroke-width="1"/>
<line x1="327.1" y1="403.2" x2="340" y2="403.2" stroke="#000" stroke-width="1"/>
<line x1="370.5" y1="371.9" x2="370.5" y2="473.1" stroke="#000" stroke-width="1.2"/>
<line x1="369.9" y1="472.5" x2="429" y2="472.5" stroke="#000" stroke-width="1.2"/>
<line x1="368.1" y1="472" x2="370.5" y2="472" stroke="#000" stroke-width="1"/>
<text transform="translate(365,476) scale(0.93,1)" font-size="8.64" text-anchor="end">0</text>
<line x1="368.1" y1="459.54" x2="370.5" y2="459.54" stroke="#000" stroke-width="1"/>
<text transform="translate(365,463.54) scale(0.93,1)" font-size="8.64" text-anchor="end">5</text>
<line x1="368.1" y1="447.07" x2="370.5" y2="447.07" stroke="#000" stroke-width="1"/>
<text transform="translate(365.4,451.07) scale(0.93,1)" font-size="8.64" text-anchor="end">10</text>
<line x1="368.1" y1="434.61" x2="370.5" y2="434.61" stroke="#000" stroke-width="1"/>
<text transform="translate(365.4,438.61) scale(0.93,1)" font-size="8.64" text-anchor="end">15</text>
<line x1="368.1" y1="422.15" x2="370.5" y2="422.15" stroke="#000" stroke-width="1"/>
<text transform="translate(365.4,426.15) scale(0.93,1)" font-size="8.64" text-anchor="end">20</text>
<line x1="368.1" y1="409.69" x2="370.5" y2="409.69" stroke="#000" stroke-width="1"/>
<text transform="translate(365.4,413.69) scale(0.93,1)" font-size="8.64" text-anchor="end">25</text>
<line x1="368.1" y1="397.23" x2="370.5" y2="397.23" stroke="#000" stroke-width="1"/>
<text transform="translate(365.4,401.23) scale(0.93,1)" font-size="8.64" text-anchor="end">30</text>
<line x1="368.1" y1="384.76" x2="370.5" y2="384.76" stroke="#000" stroke-width="1"/>
<text transform="translate(365.4,388.76) scale(0.93,1)" font-size="8.64" text-anchor="end">35</text>
<line x1="368.1" y1="372.3" x2="370.5" y2="372.3" stroke="#000" stroke-width="1"/>
<text transform="translate(365.4,376.3) scale(0.93,1)" font-size="8.64" text-anchor="end">40</text>
<rect x="374.1" y="469.1" width="3.8" height="3.8"/>
<rect x="377.1" y="468.6" width="3.8" height="3.8"/>
<rect x="380.1" y="469.1" width="3.8" height="3.8"/>
<rect x="383.1" y="468.6" width="3.8" height="3.8"/>
<rect x="385.1" y="468.1" width="3.8" height="3.8"/>
<path d="M402.8 448.39L404.85 452.08L400.75 452.08Z"/>
<path d="M397.5 457.59L399.55 461.28L395.45 461.28Z"/>
<path d="M402.5 455.29L404.55 458.98L400.45 458.98Z"/>
<path d="M406.3 457.59L408.35 461.28L404.25 461.28Z"/>
<path d="M402.5 460.29L404.55 463.98L400.45 463.98Z"/>
<path d="M408.1 459.69L410.15 463.38L406.05 463.38Z"/>
<circle cx="423.2" cy="385.7" r="2"/>
<circle cx="424.7" cy="384.3" r="2"/>
<circle cx="426.3" cy="383.5" r="2"/>
<circle cx="428" cy="383.5" r="2"/>
<circle cx="429.5" cy="384" r="2"/>
<circle cx="421.5" cy="410" r="2"/>
<circle cx="424.4" cy="396.1" r="2"/>
<circle cx="424.4" cy="402" r="2"/>
<circle cx="417.6" cy="409.5" r="2"/>
<circle cx="420.7" cy="410.7" r="2"/>
<circle cx="424.4" cy="410.7" r="2"/>
<circle cx="429.5" cy="414.5" r="2"/>
<circle cx="423.2" cy="416.4" r="2"/>
<circle cx="425.1" cy="416.4" r="2"/>
<line x1="374" y1="471" x2="388" y2="471" stroke="#000" stroke-width="1"/>
<line x1="395.6" y1="459" x2="409.4" y2="459" stroke="#000" stroke-width="1"/>
<line x1="416.3" y1="402.3" x2="430.1" y2="402.3" stroke="#000" stroke-width="1"/>
<line x1="458.5" y1="371.3" x2="458.5" y2="472.1" stroke="#000" stroke-width="1.2"/>
<line x1="457.9" y1="471.5" x2="513" y2="471.5" stroke="#000" stroke-width="1.2"/>
<line x1="456.1" y1="471.6" x2="458.5" y2="471.6" stroke="#000" stroke-width="1"/>
<text transform="translate(453.3,474) scale(0.93,1)" font-size="8.64" text-anchor="end">0</text>
<line x1="456.1" y1="453.45" x2="458.5" y2="453.45" stroke="#000" stroke-width="1"/>
<text transform="translate(453.3,455.85) scale(0.93,1)" font-size="8.64" text-anchor="end">5</text>
<line x1="456.1" y1="435.3" x2="458.5" y2="435.3" stroke="#000" stroke-width="1"/>
<text transform="translate(453.3,437.7) scale(0.93,1)" font-size="8.64" text-anchor="end">10</text>
<line x1="456.1" y1="417.15" x2="458.5" y2="417.15" stroke="#000" stroke-width="1"/>
<text transform="translate(453.3,419.55) scale(0.93,1)" font-size="8.64" text-anchor="end">15</text>
<line x1="456.1" y1="399" x2="458.5" y2="399" stroke="#000" stroke-width="1"/>
<text transform="translate(453.3,401.4) scale(0.93,1)" font-size="8.64" text-anchor="end">20</text>
<line x1="456.1" y1="380.85" x2="458.5" y2="380.85" stroke="#000" stroke-width="1"/>
<text transform="translate(453.3,383.25) scale(0.93,1)" font-size="8.64" text-anchor="end">25</text>
<line x1="456.1" y1="462.53" x2="458.5" y2="462.53" stroke="#000" stroke-width="1"/>
<line x1="456.1" y1="444.38" x2="458.5" y2="444.38" stroke="#000" stroke-width="1"/>
<line x1="456.1" y1="426.23" x2="458.5" y2="426.23" stroke="#000" stroke-width="1"/>
<line x1="456.1" y1="408.08" x2="458.5" y2="408.08" stroke="#000" stroke-width="1"/>
<line x1="456.1" y1="389.93" x2="458.5" y2="389.93" stroke="#000" stroke-width="1"/>
<line x1="456.1" y1="371.78" x2="458.5" y2="371.78" stroke="#000" stroke-width="1"/>
<rect x="461.6" y="463.1" width="3.8" height="3.8"/>
<rect x="464.6" y="463.1" width="3.8" height="3.8"/>
<rect x="467.6" y="464.1" width="3.8" height="3.8"/>
<rect x="470.1" y="466.1" width="3.8" height="3.8"/>
<rect x="462.1" y="467.1" width="3.8" height="3.8"/>
<rect x="465.6" y="467.6" width="3.8" height="3.8"/>
<rect x="469.1" y="468.1" width="3.8" height="3.8"/>
<path d="M486.6 444.39L488.65 448.08L484.55 448.08Z"/>
<path d="M482.3 448.99L484.35 452.68L480.25 452.68Z"/>
<path d="M486.6 450.09L488.65 453.78L484.55 453.78Z"/>
<path d="M490.4 451.39L492.45 455.08L488.35 455.08Z"/>
<path d="M482 453.49L484.05 457.18L479.95 457.18Z"/>
<path d="M490.4 454.09L492.45 457.78L488.35 457.78Z"/>
<path d="M486.3 455.79L488.35 459.48L484.25 459.48Z"/>
<circle cx="505" cy="376.5" r="2"/>
<circle cx="505.4" cy="382.6" r="2"/>
<circle cx="509" cy="393.5" r="2"/>
<circle cx="509.7" cy="395.5" r="2"/>
<circle cx="505.6" cy="396.5" r="2"/>
<circle cx="509" cy="399.6" r="2"/>
<circle cx="509.7" cy="402.3" r="2"/>
<circle cx="501.3" cy="404.1" r="2"/>
<circle cx="505" cy="405.7" r="2"/>
<circle cx="505.6" cy="410.5" r="2"/>
<circle cx="505.6" cy="413.2" r="2"/>
<line x1="462" y1="467" x2="474" y2="467" stroke="#000" stroke-width="1"/>
<line x1="479.9" y1="452.6" x2="492.8" y2="452.6" stroke="#000" stroke-width="1"/>
<line x1="498.2" y1="396.5" x2="510.4" y2="396.5" stroke="#000" stroke-width="1"/>
<text x="204.7" y="28.5" font-size="10.3" text-anchor="start">primitive RBC</text>
<text x="288.4" y="28.5" font-size="10.3" text-anchor="start">definitive RBC</text>
<text x="383.4" y="28.5" font-size="10.3" text-anchor="start">platelets</text>
<text x="58.4" y="189.2" font-size="10.85" text-anchor="start">LT-HSC</text>
<text x="142.5" y="189.2" font-size="10.85" text-anchor="start">MPP</text>
<text x="228.4" y="189.2" font-size="10.85" text-anchor="start">CLP</text>
<text x="306.7" y="189.2" font-size="10.85" text-anchor="start">CMP</text>
<text x="385.3" y="189.2" font-size="10.85" text-anchor="start">GMP</text>
<text x="476" y="189.2" font-size="10.85" text-anchor="start">MEP</text>
<text x="52.4" y="366.2" font-size="10.85" text-anchor="start">LT-HSC (x 10<tspan font-size="6.6" dy="-4.2">3</tspan><tspan dy="4.2">)</tspan></text>
<text x="133.1" y="366.2" font-size="10.85" text-anchor="start">MPP (x 10<tspan font-size="6.6" dy="-4.2">3</tspan><tspan dy="4.2">)</tspan></text>
<text x="213.5" y="366.2" font-size="10.85" text-anchor="start">CLP (x 10<tspan font-size="6.6" dy="-4.2">3</tspan><tspan dy="4.2">)</tspan></text>
<text x="294.3" y="366.2" font-size="10.85" text-anchor="start">CMP (x 10<tspan font-size="6.6" dy="-4.2">4</tspan><tspan dy="4.2">)</tspan></text>
<text x="380.8" y="366.2" font-size="10.85" text-anchor="start">GMP (x 10<tspan font-size="6.6" dy="-4.2">4</tspan><tspan dy="4.2">)</tspan></text>
<text x="463.3" y="366.2" font-size="10.85" text-anchor="start">MEP (x 10<tspan font-size="6.6" dy="-4.2">5</tspan><tspan dy="4.2">)</tspan></text>
<text transform="translate(23.4,80.7) rotate(-90)" font-size="10.5" text-anchor="middle">nucleated cell number</text>
<text transform="translate(178.4,72.2) rotate(-90)" font-size="10.3" text-anchor="middle">% blood</text>
<text transform="translate(9.9,250.5) rotate(-90)" font-size="10.6" text-anchor="middle">% nucleated FL cell</text>
<text transform="translate(23.4,420.1) rotate(-90)" font-size="10.2" text-anchor="middle">cell number</text>
<text x="0.3" y="19.6" font-size="26.5" text-anchor="start" font-weight="bold">A</text>
<text x="168.6" y="20" font-size="25.2" text-anchor="start" font-weight="bold">B</text>
<text transform="translate(0,179.1) scale(0.9,1)" font-size="26" font-weight="bold">C</text>
<text x="-0.6" y="356.4" font-size="24.5" text-anchor="start" font-weight="bold">D</text>
<rect x="475.4" y="48.4" width="5.4" height="5.4"/>
<path d="M478.1 62.9L481.6 69.3L474.6 69.3Z"/>
<circle cx="478.1" cy="80.9" r="3.1"/>
<text x="488.2" y="54.6" font-size="10.5" text-anchor="start" style="stroke-width:0.3px">E12.5</text>
<text x="488.2" y="69.6" font-size="10.5" text-anchor="start" style="stroke-width:0.3px">E13.5</text>
<text x="488.2" y="84.6" font-size="10.5" text-anchor="start" style="stroke-width:0.3px">E14.5</text>
</g>
</svg>
</body></html>
